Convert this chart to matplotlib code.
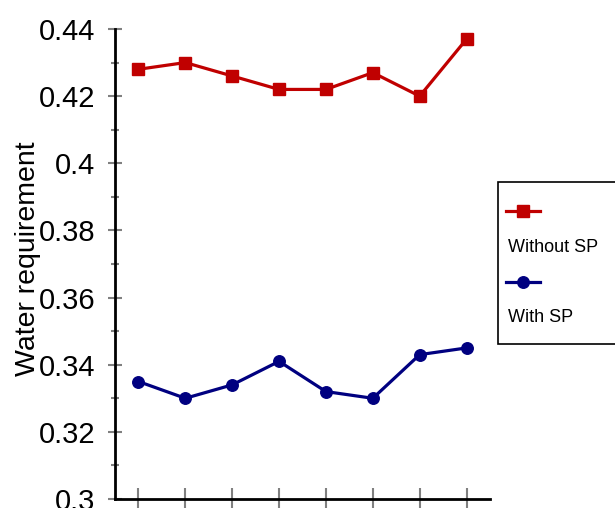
import matplotlib.pyplot as plt
from matplotlib.lines import Line2D
from matplotlib.patches import Rectangle
from matplotlib.ticker import NullFormatter

plt.rcParams["font.family"] = ["Liberation Sans", "DejaVu Sans"]

# eight samples, no tick labels on the x axis
samples = list(range(8))
without_sp = [0.428, 0.430, 0.426, 0.422, 0.422, 0.427, 0.420, 0.437]
with_sp = [0.335, 0.330, 0.334, 0.341, 0.332, 0.330, 0.343, 0.345]
series_names = ["Without SP", "With SP"]
y_major = [0.30, 0.32, 0.34, 0.36, 0.38, 0.40, 0.42, 0.44]
y_labels = ["0.3", "0.32", "0.34", "0.36", "0.38", "0.4", "0.42", "0.44"]
y_minor = [0.31, 0.33, 0.35, 0.37, 0.39, 0.41, 0.43]

red = "#c00000"
navy = "#000080"
tick_grey = "#808080"

fig = plt.figure(figsize=(6.15, 5.08), dpi=100)
ax = fig.add_axes([115 / 615, 1 - 499 / 508, 375 / 615, 470 / 508])

ax.plot(samples, without_sp, color=red, linewidth=2.3, marker="s",
        markersize=8.8, clip_on=False)
ax.plot(samples, with_sp, color=navy, linewidth=2.3, marker="o",
        markersize=8.3, clip_on=False)

ax.set_xlim(-0.5, 7.5)
ax.set_ylim(0.3, 0.44)
ax.set_xticks(samples)
ax.xaxis.set_major_formatter(NullFormatter())
ax.set_yticks(y_major, y_labels)
ax.set_yticks(y_minor, minor=True)

ax.tick_params(axis="y", which="major", direction="inout", length=10,
               width=1.5, color=tick_grey, labelsize=21, pad=9)
ax.tick_params(axis="y", which="minor", direction="inout", length=6,
               width=1.5, color=tick_grey)
ax.tick_params(axis="x", which="major", direction="inout", length=16,
               width=1.5, color=tick_grey)

for side in ["top", "right"]:
    ax.spines[side].set_visible(False)
ax.spines["left"].set_linewidth(2)
ax.spines["bottom"].set_linewidth(2)

ax.set_ylabel("Water requirement", fontsize=20.5)
ax.yaxis.set_label_coords((41 - 115) / 375, (499 - 259) / 470)

# legend box: marker row above each label, box runs off the right edge
def fx(px):
    return px / 615

def fy(px):
    return 1 - px / 508

fig.add_artist(Rectangle((fx(498), fy(344)), fx(140), (344 - 182) / 508,
                         transform=fig.transFigure, facecolor="white",
                         edgecolor="black", linewidth=1.2))
handles = [(red, "s", 8.8, 211, 247), (navy, "o", 8.3, 282, 318)]
for (col, mk, ms, hy, ty), name in zip(handles, series_names):
    fig.add_artist(Line2D([fx(506), fx(540)], [fy(hy), fy(hy)],
                          transform=fig.transFigure, color=col,
                          linewidth=2.3))
    fig.add_artist(Line2D([fx(523)], [fy(hy)], transform=fig.transFigure,
                          color=col, marker=mk, markersize=ms))
    fig.text(fx(508), fy(ty), name, fontsize=13, va="center", ha="left")

plt.savefig("out.png", dpi=100)
plt.close()
